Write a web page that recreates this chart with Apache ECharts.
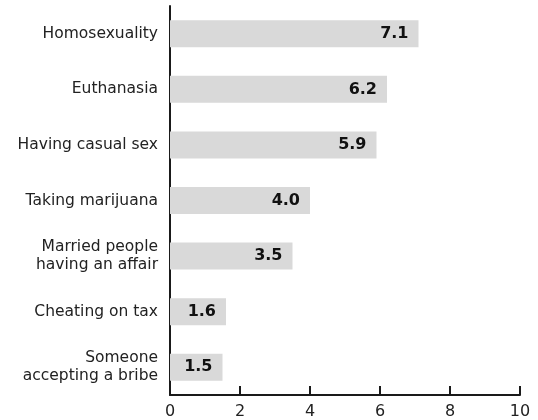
<!DOCTYPE html>
<html>
<head>
<meta charset="utf-8">
<script src="https://cdn.jsdelivr.net/npm/echarts@6/dist/echarts.min.js"></script>
<style>
  html, body { margin: 0; padding: 0; background: #fff; }
  #chart { width: 538px; height: 420px; }
</style>
</head>
<body>
<div id="chart"></div>
<script>
// Behaviours rated on a 0–10 scale
const categories = [
  'Homosexuality',
  'Euthanasia',
  'Having casual sex',
  'Taking marijuana',
  'Married people\nhaving an affair',
  'Cheating on tax',
  'Someone\naccepting a bribe'
];
const values = [7.1, 6.2, 5.9, 4.0, 3.5, 1.6, 1.5];
const xTicks = [0, 2, 4, 6, 8, 10];

const chart = echarts.init(document.getElementById('chart'));
chart.setOption({
  animation: false,
  grid: { left: 170, right: 18, top: 6, bottom: 25, containLabel: false },
  xAxis: {
    type: 'value',
    min: xTicks[0],
    max: xTicks[xTicks.length - 1],
    interval: 2,
    axisLine: { show: true, lineStyle: { color: '#1a1a1a', width: 2 } },
    axisTick: { show: true, inside: true, length: 9, lineStyle: { color: '#1a1a1a', width: 2 } },
    axisLabel: { color: '#222', fontSize: 16, margin: 9, fontFamily: 'DejaVu Sans, sans-serif' },
    splitLine: { show: false }
  },
  yAxis: {
    type: 'category',
    data: categories,
    inverse: true,
    axisLine: { show: true, lineStyle: { color: '#1a1a1a', width: 2 } },
    axisTick: { show: false },
    axisLabel: {
      color: '#222', fontSize: 15.5, margin: 12, lineHeight: 18, align: 'right',
      fontFamily: 'DejaVu Sans, sans-serif'
    }
  },
  series: [{
    type: 'bar',
    data: values,
    barWidth: 27,
    itemStyle: { color: '#d9d9d9' },
    label: {
      show: true,
      position: 'insideRight',
      distance: 10,
      color: '#111',
      fontSize: 16,
      fontWeight: 'bold',
      fontFamily: 'DejaVu Sans, sans-serif',
      formatter: p => p.value.toFixed(1)
    }
  }]
});
</script>
</body>
</html>
